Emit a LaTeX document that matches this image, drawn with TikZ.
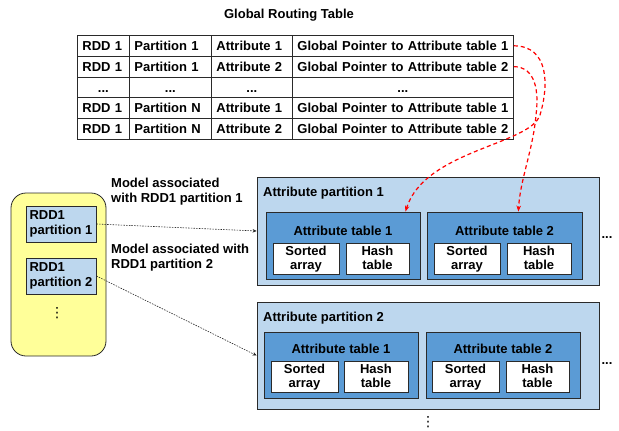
\documentclass[tikz,border=0pt]{standalone}
\usepackage{fontspec}
\setmainfont{Liberation Sans}
\newfontfamily\dotsfont{DejaVu Sans}
\usetikzlibrary{fit,calc,arrows.meta}

\definecolor{partblue}{HTML}{BDD7EE}
\definecolor{tabblue}{HTML}{5B9BD5}
\definecolor{memyellow}{HTML}{FFFF99}
\definecolor{edgegray}{HTML}{2A2A2A}

\begin{document}
\begin{tikzpicture}[x=1pt,y=-1pt,
  font=\fontsize{13}{15}\selectfont\bfseries,
  region/.style={draw=edgegray, line width=0.8pt, inner sep=0pt},
  partbox/.style={region, fill=partblue},
  tabbox/.style={region, fill=tabblue},
  leafbox/.style={region, fill=white},
  leaftext/.style={inner sep=0pt, align=center, anchor=north,
                   font=\fontsize{13}{14}\selectfont\bfseries},
  rddbox/.style={region, fill=partblue},
  cell/.style={draw=edgegray, line width=0.8pt, anchor=north west,
               minimum height=20.8pt, inner xsep=5pt, inner ysep=0pt,
               text height=9.4pt, text depth=0pt, align=left},
  colA/.style={cell, text width=42pt},
  colB/.style={cell, text width=72pt},
  colC/.style={cell, text width=71pt},
  colD/.style={cell, text width=211pt},
  ptrlink/.style={red, line width=1.2pt, dash pattern=on 4pt off 3pt,
                  -{Stealth[length=6pt,width=4.5pt]}},
  modellink/.style={black!85, line width=0.6pt, dash pattern=on 1.5pt off 1.2pt,
                    -{Stealth[length=4pt,width=3.5pt]}},
  txt/.style={inner sep=0pt, anchor=base},
  vdotsmark/.style={inner sep=0pt, font=\dotsfont\mdseries\fontsize{14}{14}\selectfont}
]
\useasboundingbox (0,0) rectangle (619,431);

% ---------------- global routing table ----------------
\node[txt] (title) at (289,18.5) {Global Routing Table};

\foreach \r/\y/\a/\b/\c/\d in {
  1/35/RDD 1/Partition 1/Attribute 1/Global Pointer to Attribute table 1,
  2/55.8/RDD 1/Partition 1/Attribute 2/Global Pointer to Attribute table 2,
  4/97.4/RDD 1/Partition N/Attribute 1/Global Pointer to Attribute table 1,
  5/118.2/RDD 1/Partition N/Attribute 2/Global Pointer to Attribute table 2}{
  \node[colA] (c\r1) at (77,\y)  {\a};
  \node[colB] (c\r2) at (129,\y) {\b};
  \node[colC] (c\r3) at (211,\y) {\c};
  \node[colD] (c\r4) at (292,\y) {\d};
}
\node[colA, align=center] (c31) at (77,76.6)  {...};
\node[colB, align=center] (c32) at (129,76.6) {...};
\node[colC, align=center] (c33) at (211,76.6) {...};
\node[colD, align=center] (c34) at (292,76.6) {...};

% ---------------- worker memory with RDD partitions ----------------
\draw[region, fill=memyellow, rounded corners=15pt] (11,193) rectangle (106,356);
\node[rddbox, fit={(26,206) (96,242)}] (rdd1) {};
\node[align=left, inner sep=0pt] (rdd1txt) at (rdd1.center) {RDD1\\partition 1};
\node[rddbox, fit={(26,258) (96,294)}] (rdd2) {};
\node[align=left, inner sep=0pt] (rdd2txt) at (rdd2.center) {RDD1\\partition 2};
\node[vdotsmark] (memdots) at (57,313.5) {⋮};

% ---------------- attribute partition 1 ----------------
\node[partbox, fit={(257,177) (599,285)}] (p1) {};
\node[txt, anchor=base west] (p1lbl) at (263,196) {Attribute partition 1};
\node[tabbox, fit={(266,212) (420,279)}] (at11) {};
\node[txt] (at11lbl) at (343,235.3) {Attribute table 1};
\node[leafbox, fit={(273,243) (339,274)}] (sa11) {};
\node[leaftext] (sa11txt) at ([yshift=-3.5pt]sa11.north) {Sorted\\array};
\node[leafbox, fit={(346,243) (409,274)}] (ht11) {};
\node[leaftext] (ht11txt) at ([yshift=-3.5pt]ht11.north) {Hash\\table};
\node[tabbox, fit={(427,212) (582,279)}] (at12) {};
\node[txt] (at12lbl) at (504.5,235.3) {Attribute table 2};
\node[leafbox, fit={(434,243) (500,274)}] (sa12) {};
\node[leaftext] (sa12txt) at ([yshift=-3.5pt]sa12.north) {Sorted\\array};
\node[leafbox, fit={(507,243) (571,274)}] (ht12) {};
\node[leaftext] (ht12txt) at ([yshift=-3.5pt]ht12.north) {Hash\\table};
\node[txt] (p1more) at (607,238) {...};

% ---------------- attribute partition 2 ----------------
\node[partbox, fit={(257,302) (599,409)}] (p2) {};
\node[txt, anchor=base west] (p2lbl) at (263,321) {Attribute partition 2};
\node[tabbox, fit={(264,332) (418,398)}] (at21) {};
\node[txt] (at21lbl) at (341,353.3) {Attribute table 1};
\node[leafbox, fit={(271,361) (338,392)}] (sa21) {};
\node[leaftext] (sa21txt) at ([yshift=-3.5pt]sa21.north) {Sorted\\array};
\node[leafbox, fit={(344,361) (408,392)}] (ht21) {};
\node[leaftext] (ht21txt) at ([yshift=-3.5pt]ht21.north) {Hash\\table};
\node[tabbox, fit={(426,332) (580,398)}] (at22) {};
\node[txt] (at22lbl) at (503,353.3) {Attribute table 2};
\node[leafbox, fit={(432,361) (499,392)}] (sa22) {};
\node[leaftext] (sa22txt) at ([yshift=-3.5pt]sa22.north) {Sorted\\array};
\node[leafbox, fit={(506,361) (569,392)}] (ht22) {};
\node[leaftext] (ht22txt) at ([yshift=-3.5pt]ht22.north) {Hash\\table};
\node[txt] (p2more) at (607,364) {...};
\node[vdotsmark] (partdots) at (428,422.5) {⋮};

% ---------------- model links ----------------
\node[align=left, inner sep=0pt, anchor=base west] (m1lbl) at (111,202.7)
  {Model associated\\with RDD1 partition 1};
\node[align=left, inner sep=0pt, anchor=base west] (m2lbl) at (111,268.3)
  {Model associated with\\RDD1 partition 2};
\draw[modellink] (rdd1.east) -- (p1.west);
\draw[modellink] (rdd2.east) -- (p2.west);

% ---------------- global pointers ----------------
\draw[ptrlink] (c14.east) .. controls (549,46) and (549,85) .. (540,115)
  .. controls (530,145) and (425,150) .. ([xshift=-15pt]at11.north east);
\draw[ptrlink] (c24.east) .. controls (536,67) and (539,92) .. (536,115)
  .. controls (533,150) and (520,180) .. ([xshift=-64pt]at12.north east);
\end{tikzpicture}
\end{document}
